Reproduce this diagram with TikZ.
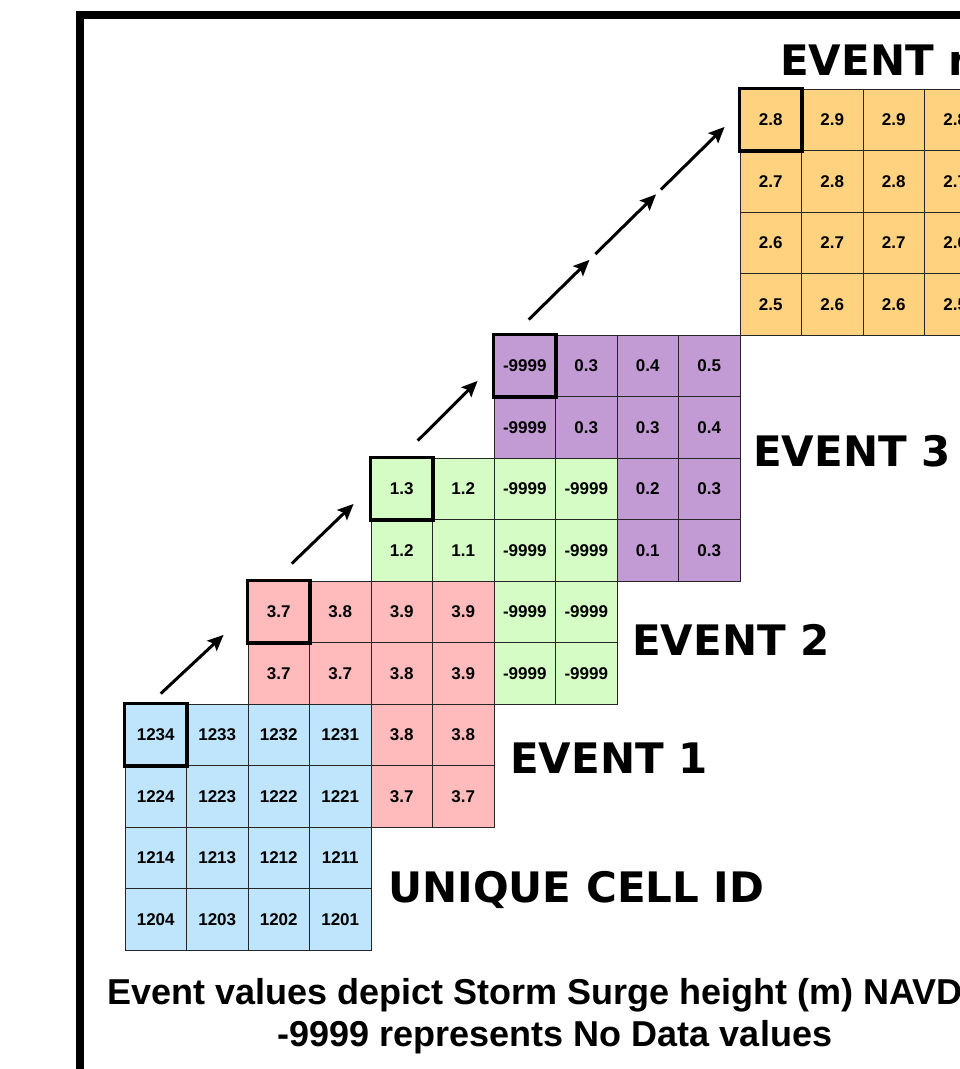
\documentclass[tikz,border=0pt]{standalone}
\usepackage{fontspec}
\setmainfont{Liberation Sans}
\newfontfamily\heavyfont{DejaVu Sans}
\usetikzlibrary{calc,arrows.meta}
\definecolor{idblue}{RGB}{190,229,252}
\definecolor{evred}{RGB}{255,187,187}
\definecolor{evgreen}{RGB}{212,252,196}
\definecolor{evpurple}{RGB}{195,155,212}
\definecolor{evorange}{RGB}{255,210,128}
\newcommand{\Cs}{61.5}
\newcommand{\Xo}{125}
\newcommand{\Yo}{704}
% visible cells only: row/col/value
\def\idcells{
  0/0/1234, 0/1/1233, 0/2/1232, 0/3/1231,
  1/0/1224, 1/1/1223, 1/2/1222, 1/3/1221,
  2/0/1214, 2/1/1213, 2/2/1212, 2/3/1211,
  3/0/1204, 3/1/1203, 3/2/1202, 3/3/1201
}
\def\evone{
  0/0/3.7, 0/1/3.8, 0/2/3.9, 0/3/3.9,
  1/0/3.7, 1/1/3.7, 1/2/3.8, 1/3/3.9,
  2/2/3.8, 2/3/3.8,
  3/2/3.7, 3/3/3.7
}
\def\evtwo{
  0/0/1.3, 0/1/1.2, 0/2/-9999, 0/3/-9999,
  1/0/1.2, 1/1/1.1, 1/2/-9999, 1/3/-9999,
  2/2/-9999, 2/3/-9999,
  3/2/-9999, 3/3/-9999
}
\def\evthree{
  0/0/-9999, 0/1/0.3, 0/2/0.4, 0/3/0.5,
  1/0/-9999, 1/1/0.3, 1/2/0.3, 1/3/0.4,
  2/2/0.2, 2/3/0.3,
  3/2/0.1, 3/3/0.3
}
\def\evn{
  0/0/2.8, 0/1/2.9, 0/2/2.9, 0/3/2.8,
  1/0/2.7, 1/1/2.8, 1/2/2.8, 1/3/2.7,
  2/0/2.6, 2/1/2.7, 2/2/2.7, 2/3/2.6,
  3/0/2.5, 3/1/2.6, 3/2/2.6, 3/3/2.5
}
\tikzset{
  cell/.style   = {draw=black!85, line width=0.8pt, minimum size={\Cs*1pt}, inner sep=0pt,
                   font=\bfseries\fontsize{17}{17}\selectfont},
  pick/.style   = {draw=black, line width=3.5pt},
  hop/.style    = {-{Stealth[length=16pt,width=14pt,inset=3pt]}, line width=3pt},
  title/.style  = {anchor=base west, inner sep=0pt, font=\heavyfont\bfseries\fontsize{42}{42}\selectfont},
  note/.style   = {inner sep=0pt, font=\bfseries\fontsize{36}{36}\selectfont},
  frame/.style  = {line width=8pt, draw=black}
}

\begin{document}
\begin{tikzpicture}[x=1pt, y=-1pt]
    \useasboundingbox (0,0) rectangle (960,1069);
    \clip (0,0) rectangle (960,1069);
    \fill[white] (0,0) rectangle (960,1069);

    % outer frame (runs past the page)
    \draw[frame] (80,15) rectangle (1200,1300);

    % unique cell id grid
    \foreach \r/\c/\v in \idcells {
      \node[cell, fill=idblue] (u-\r-\c) at ({\Xo+(\c+0.5)*\Cs}, {\Yo+(\r+0.5)*\Cs}) {\v};
    }
    % event grids, each shifted two cells up and right
    \foreach \r/\c/\v in \evone {
      \node[cell, fill=evred] (e1-\r-\c) at ({\Xo+(\c+2.5)*\Cs}, {\Yo+(\r-1.5)*\Cs}) {\v};
    }
    \foreach \r/\c/\v in \evtwo {
      \node[cell, fill=evgreen] (e2-\r-\c) at ({\Xo+(\c+4.5)*\Cs}, {\Yo+(\r-3.5)*\Cs}) {\v};
    }
    \foreach \r/\c/\v in \evthree {
      \node[cell, fill=evpurple] (e3-\r-\c) at ({\Xo+(\c+6.5)*\Cs}, {\Yo+(\r-5.5)*\Cs}) {\v};
    }
    \foreach \r/\c/\v in \evn {
      \node[cell, fill=evorange] (en-\r-\c) at ({\Xo+(\c+10.5)*\Cs}, {\Yo+(\r-9.5)*\Cs}) {\v};
    }

    % the tracked cell
    \foreach \g in {u,e1,e2,e3,en}{
      \draw[pick] (\g-0-0.north west) rectangle (\g-0-0.south east);
    }

    % arrows from cell to cell
    \draw[hop] ($(u-0-0.north)+(5,-10)$) -- ($(e1-0-0.south west)+(-24,-8)$);
    \draw[hop] ($(e1-0-0.north)+(13,-17)$) -- ($(e2-0-0.south west)+(-17,-16)$);
    \draw[hop] ($(e2-0-0.north)+(16,-17)$) -- ($(e3-0-0.south west)+(-16,-16)$);
    \coordinate (gapstart) at ($(e3-0-0.north)+(4,-15)$);
    \coordinate (gapend) at ($(en-0-0.south west)+(-15,-24)$);
    \foreach \a/\b in {0/0.31, 0.34/0.65, 0.675/1}{
      \draw[hop] ($(gapstart)!\a!(gapend)$) -- ($(gapstart)!\b!(gapend)$);
    }

    % labels
    \node[title] (lbln) at (780,75) {EVENT n};
    \node[title] (lbl3) at (753,466) {EVENT 3};
    \node[title] (lbl2) at (632,655) {EVENT 2};
    \node[title] (lbl1) at (510,773) {EVENT 1};
    \node[title] (lblid) at (388,902) {UNIQUE CELL ID};

    \node[note, anchor=base west] (cap1) at (107,1004) {Event values depict Storm Surge height (m) NAVD};
    \node[note, anchor=base] (cap2) at (555,1046) {-9999 represents No Data values};
  \end{tikzpicture}
\end{document}
